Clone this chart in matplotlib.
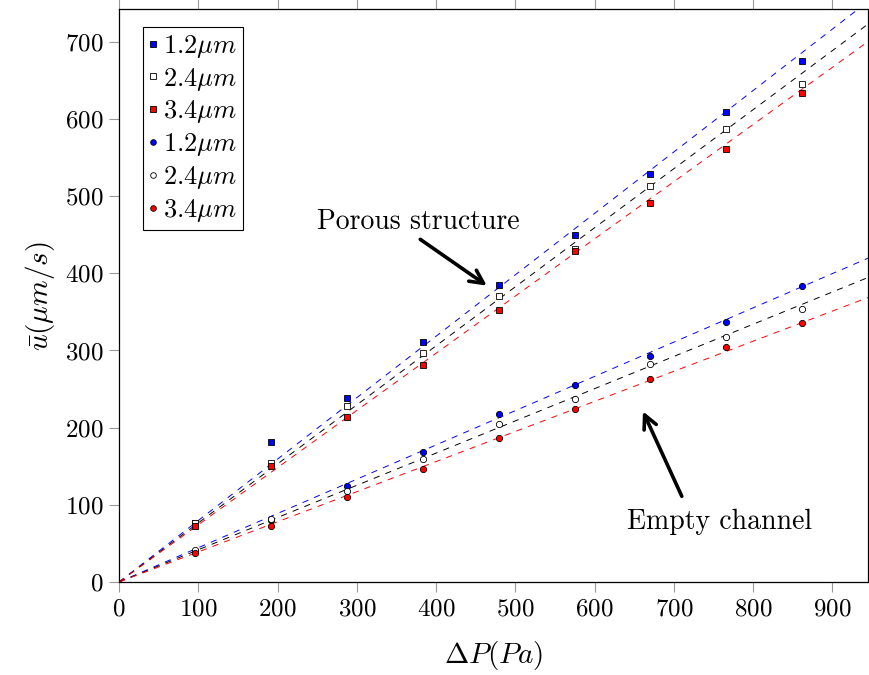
import numpy as np
import matplotlib
matplotlib.use("Agg")
import matplotlib.pyplot as plt

plt.rcParams["font.family"] = "cmr10"
plt.rcParams["mathtext.fontset"] = "cm"
plt.rcParams["axes.formatter.use_mathtext"] = True
plt.rcParams["lines.scale_dashes"] = False

# pressure drop (Pa)
DP = [96, 192, 287, 383, 479, 575, 670, 766, 862]

# porous structure (squares)
POR_12 = [77, 181.5, 238.5, 311, 384.6, 449.4, 528, 608.8, 675]
POR_24 = [77, 153.8, 228.2, 297.3, 369.9, 432, 512.5, 586.8, 644.7]
POR_34 = [72.6, 150.4, 213.5, 281.3, 352.6, 429, 490.9, 560.5, 633]

# empty channel (circles)
EMP_12 = [40, 80, 124.4, 168.1, 217.4, 255.8, 293.2, 337, 383.3]
EMP_24 = [41.5, 81.2, 118.4, 159, 204.4, 237.6, 282.6, 317.2, 354.3]
EMP_34 = [37.2, 73, 109.8, 146.9, 187.1, 223.8, 263.2, 304.2, 336.2]

# slopes of the dashed fit lines (through origin)
POR_SLOPES = [0.796, 0.765, 0.741]
EMP_SLOPES = [0.444, 0.4175, 0.390]

LABELS = [r"$1.2\mu m$", r"$2.4\mu m$", r"$3.4\mu m$"]
COLORS = ["#0000ff", "white", "#ff0000"]
LINE_COLORS = ["#0000ff", "black", "#ff0000"]

fig = plt.figure(figsize=(8.7, 6.75), dpi=100)
ax = fig.add_axes([0.1368, 0.1378, 0.861, 0.8484])

xfit = np.array([0, 950])
for s, c in zip(POR_SLOPES, LINE_COLORS):
    ax.plot(xfit, s * xfit, color=c, lw=0.7, dashes=(4.5, 4.5), zorder=2)
for s, c in zip(EMP_SLOPES, LINE_COLORS):
    ax.plot(xfit, s * xfit, color=c, lw=0.7, dashes=(4.5, 4.5), zorder=2)

for ys, c, lab in zip([POR_12, POR_24, POR_34], COLORS, LABELS):
    ax.plot(DP, ys, ls="none", marker="s", ms=4.5, mfc=c, mec="black",
            mew=0.6, label=lab, zorder=3)
for ys, c, lab in zip([EMP_12, EMP_24, EMP_34], COLORS, LABELS):
    ax.plot(DP, ys, ls="none", marker="o", ms=4.5, mfc=c, mec="black",
            mew=0.6, label=lab, zorder=3)

ax.set_xlim(0, 945)
ax.set_ylim(0, 742)
ax.set_xticks(range(0, 1000, 100))
ax.set_yticks(range(0, 800, 100))

ax.tick_params(axis="both", which="both", labelsize=18, color="#999999",
               length=7, width=0.8, direction="out")
ax.tick_params(axis="x", top=True, pad=5)
ax.tick_params(axis="y", pad=4)
for sp in ax.spines.values():
    sp.set_linewidth(0.9)

ax.set_xlabel(r"$\Delta P(Pa)$", fontsize=21, labelpad=13)
ax.set_ylabel(r"$\bar{u}(\mu m/s)$", fontsize=21, labelpad=6)

leg = ax.legend(loc="upper left", bbox_to_anchor=(0.032, 0.969),
                borderaxespad=0, fontsize=19, fancybox=False,
                edgecolor="black", framealpha=1, handlelength=0.35,
                handletextpad=0.2, labelspacing=0.22, borderpad=0.22,
                markerscale=0.9)
leg.get_frame().set_linewidth(0.8)

# annotations: text and arrows drawn separately
ax.text(378, 467, "Porous structure", fontsize=20, ha="center", va="center")
ax.annotate("", xy=(464, 384), xytext=(380, 444),
            arrowprops=dict(arrowstyle="->", lw=2.6, color="black",
                            mutation_scale=24, shrinkA=0, shrinkB=0))
ax.text(757, 78, "Empty channel", fontsize=20, ha="center", va="center")
ax.annotate("", xy=(661, 221), xytext=(710, 111),
            arrowprops=dict(arrowstyle="->", lw=2.6, color="black",
                            mutation_scale=24, shrinkA=0, shrinkB=0))

fig.savefig("out.png", dpi=100)
